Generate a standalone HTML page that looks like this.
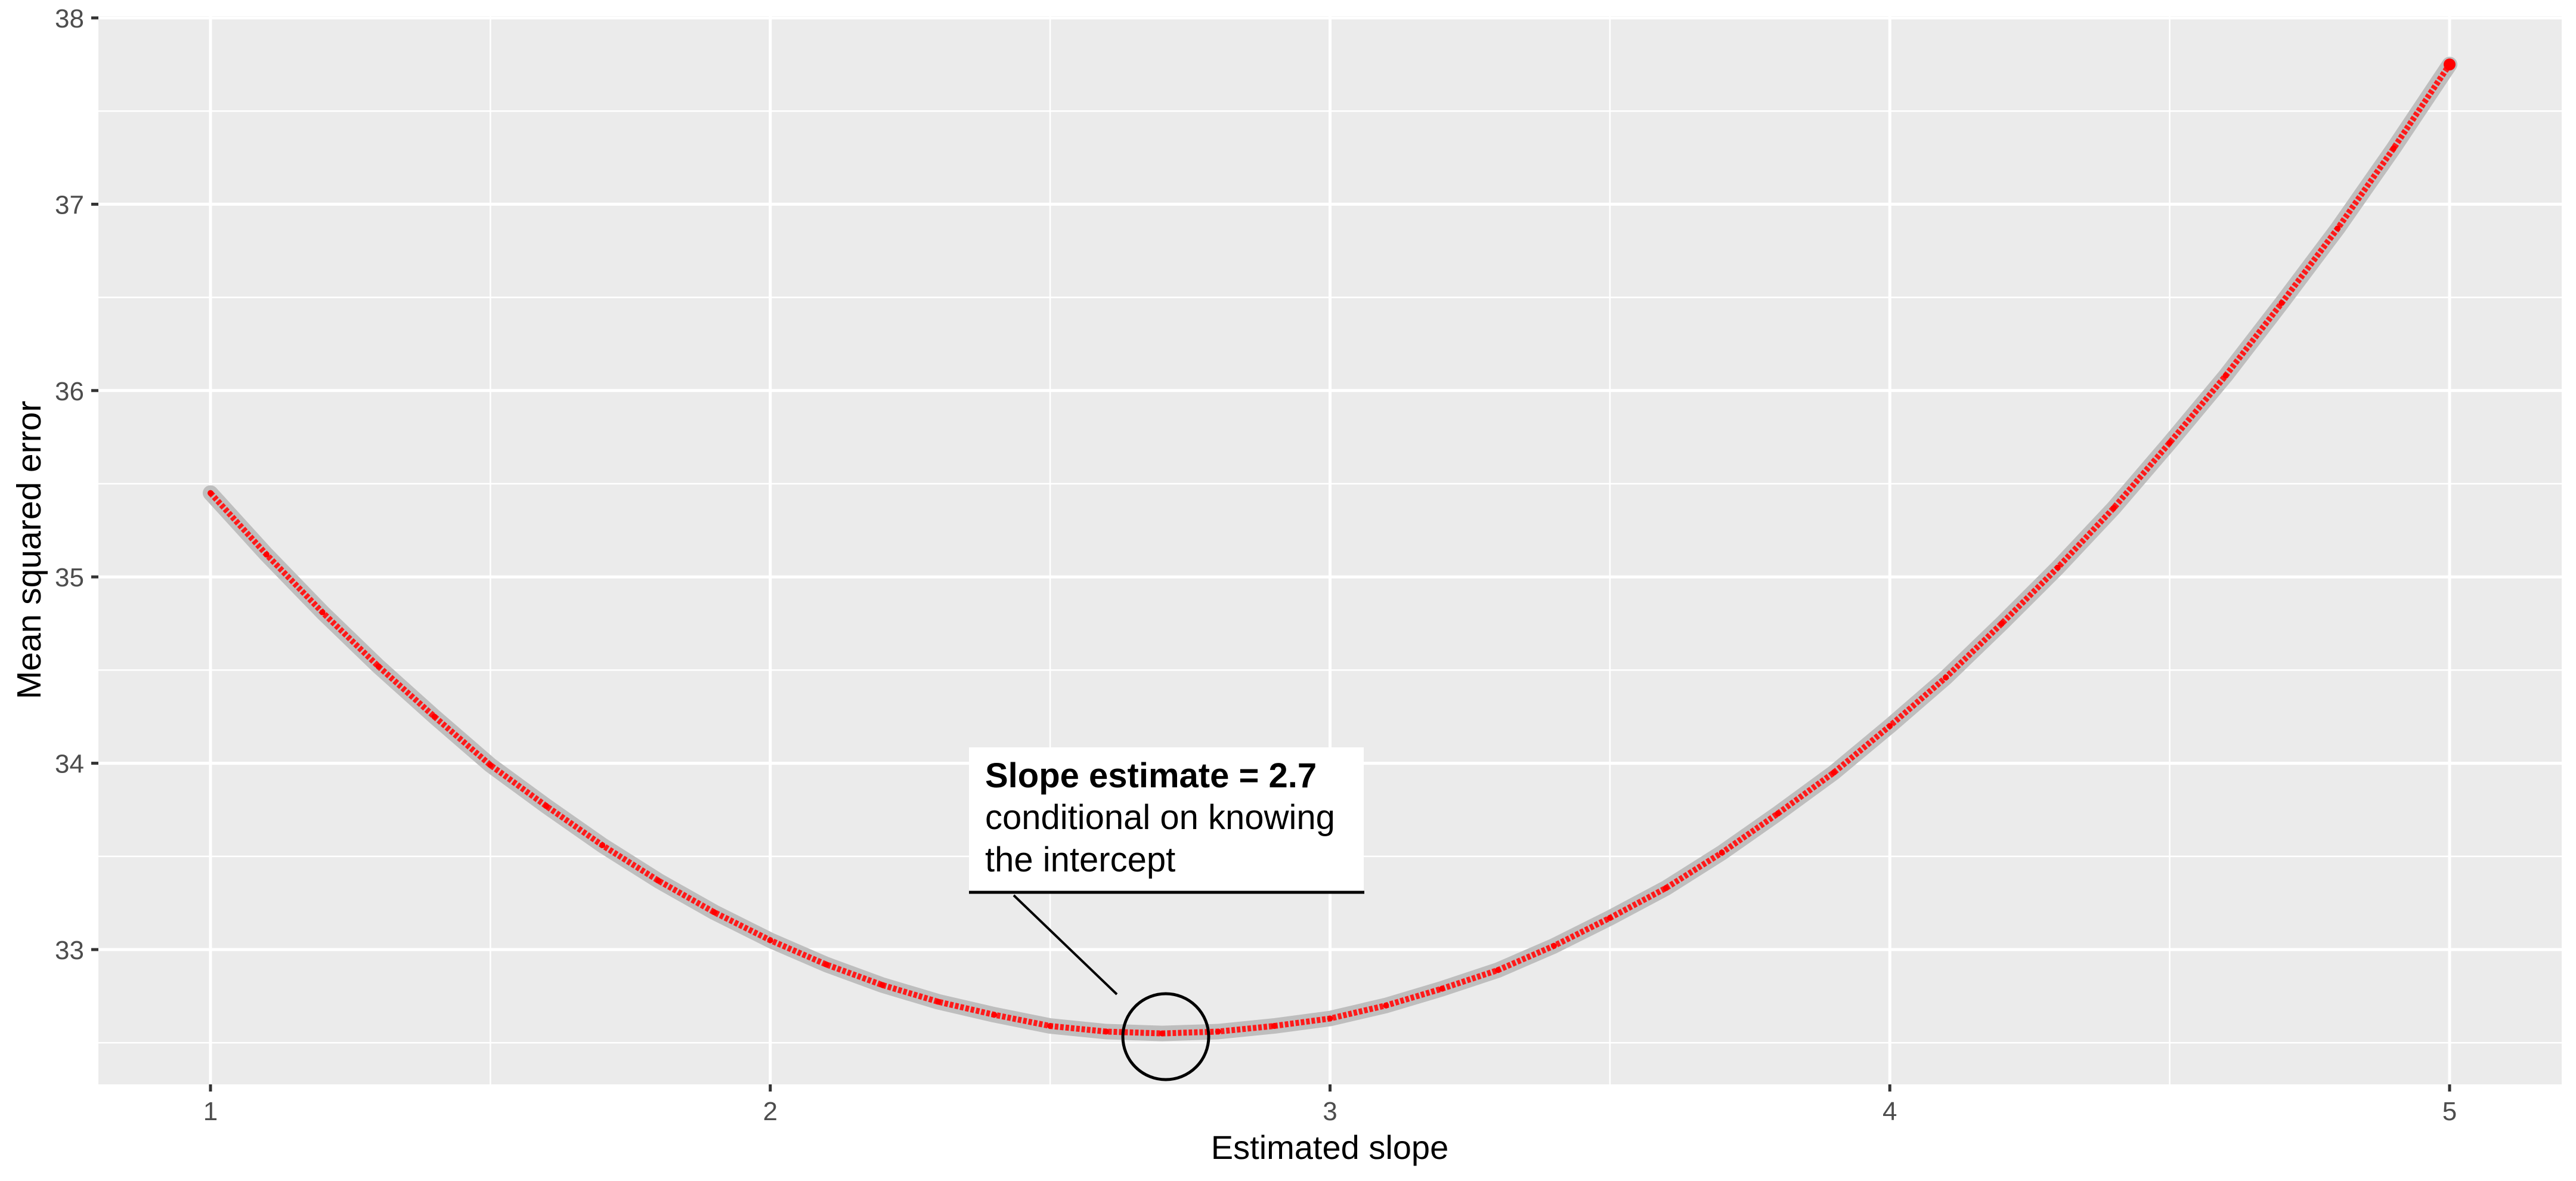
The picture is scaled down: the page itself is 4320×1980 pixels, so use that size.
<!DOCTYPE html>
<html><head><meta charset="utf-8"><style>
html,body{margin:0;padding:0;background:#fff;}
svg{display:block;font-family:"Liberation Sans",Arial,sans-serif;}
</style></head><body>
<svg id="chart" width="4320" height="1980" viewBox="0 0 4320 1980" xmlns="http://www.w3.org/2000/svg">
<rect x="0" y="0" width="4320" height="1980" fill="#fff"/>
<g id="panel"></g>
<g id="series"></g>
<g id="annot">
  <line x1="1700" y1="1501" x2="1873" y2="1667" stroke="#000" stroke-width="4"/>
  <circle cx="1955" cy="1738" r="72" fill="none" stroke="#000" stroke-width="5"/>
  <rect x="1625" y="1253" width="662" height="243" fill="#fff"/>
  <line x1="1625" y1="1496" x2="2288" y2="1496" stroke="#000" stroke-width="5"/>
  <text x="1652" y="1320" font-size="58" font-weight="bold" fill="#000">Slope estimate = 2.7</text>
  <text x="1652" y="1390" font-size="58" fill="#000">conditional on knowing</text>
  <text x="1652" y="1461" font-size="58" fill="#000">the intercept</text>
</g>
<text x="2230" y="1943" font-size="56" text-anchor="middle" fill="#000">Estimated slope</text>
<text transform="translate(68,922) rotate(-90)" font-size="57" text-anchor="middle" fill="#000">Mean squared error</text>
</svg>
<script>
const slopes = [1.0,1.1,1.2,1.3,1.4,1.5,1.6,1.7,1.8,1.9,2.0,2.1,2.2,2.3,2.4,2.5,2.6,2.7,2.8,2.9,3.0,3.1,3.2,3.3,3.4,3.5,3.6,3.7,3.8,3.9,4.0,4.1,4.2,4.3,4.4,4.5,4.6,4.7,4.8,4.9,5.0];
const mseValues = [35.45,35.12,34.81,34.52,34.25,33.99,33.77,33.56,33.37,33.20,33.05,32.92,32.81,32.72,32.65,32.59,32.56,32.55,32.56,32.59,32.63,32.70,32.79,32.89,33.02,33.17,33.33,33.52,33.73,33.95,34.20,34.46,34.75,35.05,35.37,35.72,36.08,36.47,36.87,37.30,37.75];
const xTicks = [1,2,3,4,5];
const xTickLabels = ["1","2","3","4","5"];
const xMinor = [1.5,2.5,3.5,4.5];
const yTicks = [33,34,35,36,37,38];
const yTickLabels = ["33","34","35","36","37","38"];
const yMinor = [32.5,33.5,34.5,35.5,36.5,37.5];

const NS="http://www.w3.org/2000/svg";
const PL=165, PR=4296, PT=27, PB=1818;
const X0=353, XU=(4108-353)/4;
const Y0=30, YU=312.4;
function sx(v){return X0+(v-1)*XU;}
function sy(v){return Y0+(38-v)*YU;}
function mk(tag,attrs,parent){const e=document.createElementNS(NS,tag);for(const k in attrs)e.setAttribute(k,attrs[k]);parent.appendChild(e);return e;}

const panel=document.getElementById('panel');
const bg=mk('rect',{x:PL,y:PT,width:PR-PL,height:PB-PT,fill:'#ebebeb'},panel);


yMinor.forEach(v=>{const l=mk('line',{x1:PL,x2:PR,y1:sy(v),y2:sy(v),stroke:'#fff','stroke-width':2.5},panel);

});
xMinor.forEach(v=>{const l=mk('line',{x1:sx(v),x2:sx(v),y1:PT,y2:PB,stroke:'#fff','stroke-width':2.5},panel);

});
yTicks.forEach((v,i)=>{const l=mk('line',{x1:PL,x2:PR,y1:sy(v),y2:sy(v),stroke:'#fff','stroke-width':5},panel);


const t=mk('line',{x1:PL-12,x2:PL,y1:sy(v),y2:sy(v),stroke:'#333','stroke-width':5},panel);


const tx=mk('text',{x:PL-24,y:sy(v)+16,'font-size':44,'text-anchor':'end',fill:'#4d4d4d'},panel);
tx.textContent=yTickLabels[i];

});
xTicks.forEach((v,i)=>{const l=mk('line',{x1:sx(v),x2:sx(v),y1:PT,y2:PB,stroke:'#fff','stroke-width':5},panel);


const t=mk('line',{x1:sx(v),x2:sx(v),y1:PB,y2:PB+12,stroke:'#333','stroke-width':5},panel);


const tx=mk('text',{x:sx(v),y:PB+60,'font-size':44,'text-anchor':'middle',fill:'#4d4d4d'},panel);
tx.textContent=xTickLabels[i];

});

const series=document.getElementById('series');
const d=slopes.map((s,i)=>(i?'L':'M')+sx(s).toFixed(1)+','+sy(mseValues[i]).toFixed(1)).join(' ');
const band=mk('path',{d:d,fill:'none',stroke:'#bebebe','stroke-width':26,'stroke-linecap':'round','stroke-linejoin':'round'},series);


const core=mk('path',{d:d,fill:'none',stroke:'#ff1a1a','stroke-width':10,'stroke-dasharray':'6 3','stroke-linejoin':'round'},series);


slopes.forEach((s,i)=>{const c=mk('circle',{cx:sx(s),cy:sy(mseValues[i]),r:5,fill:'#ff0000'},series);

});
const last=slopes.length-1;
const endDot=mk('circle',{cx:sx(slopes[last]),cy:sy(mseValues[last]),r:10,fill:'#ff0000'},series);


</script>
</body></html>
